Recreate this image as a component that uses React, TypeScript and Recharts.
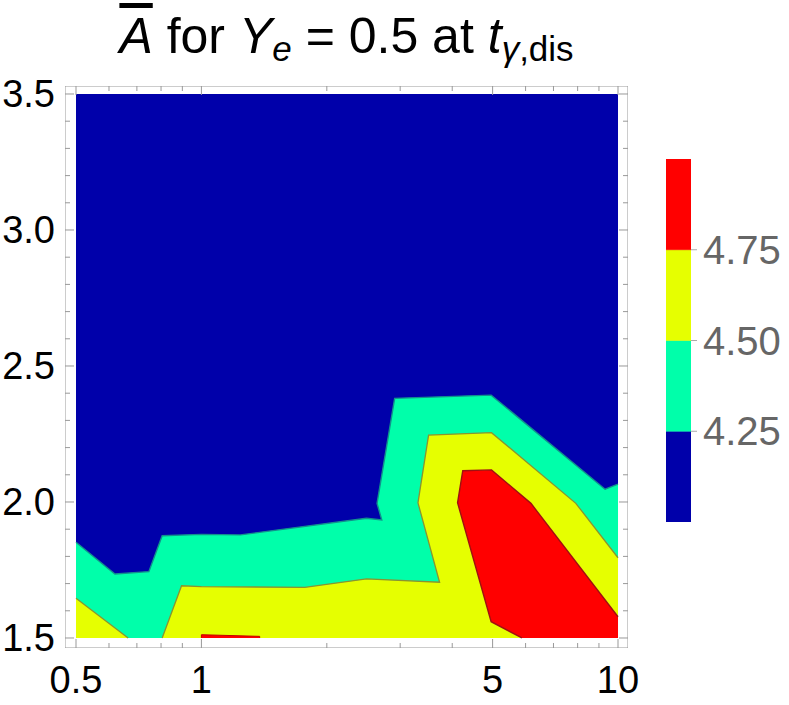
import React from "react";
import { ComposedChart, Scatter, XAxis, YAxis } from "recharts";

const FONT = '"Liberation Sans", Arial, Helvetica, sans-serif';

const BLUE = "#0000aa";
const GREEN = "#00ffaa";
const YELLOW = "#e6ff00";
const RED = "#ff0000";
const FRAME = "#999999";

// data extent
const X0 = 0.5;
const X1 = 10;
const Y0 = 1.5;
const Y1 = 3.5;

// contour 4.25 (blue / green)
const contour425 = [
  { x: 0.5, y: 1.852 },
  { x: 0.62, y: 1.735 },
  { x: 0.748, y: 1.744 },
  { x: 0.805, y: 1.876 },
  { x: 1.0, y: 1.881 },
  { x: 1.24, y: 1.879 },
  { x: 2.49, y: 1.94 },
  { x: 2.71, y: 1.934 },
  { x: 2.64, y: 1.995 },
  { x: 2.91, y: 2.381 },
  { x: 4.96, y: 2.393 },
  { x: 9.31, y: 2.047 },
  { x: 10, y: 2.066 },
];

// contour 4.5 (green / yellow), two pieces
const contour450a = [
  { x: 0.5, y: 1.646 },
  { x: 0.667, y: 1.5 },
];
const contour450b = [
  { x: 0.805, y: 1.5 },
  { x: 0.896, y: 1.692 },
  { x: 1.0, y: 1.689 },
  { x: 1.77, y: 1.686 },
  { x: 2.49, y: 1.717 },
  { x: 3.73, y: 1.705 },
  { x: 3.31, y: 1.997 },
  { x: 3.51, y: 2.246 },
  { x: 4.97, y: 2.255 },
  { x: 7.92, y: 1.995 },
  { x: 10, y: 1.795 },
];

// contour 4.75 (yellow / red)
const contour475 = [
  { x: 5.88, y: 1.5 },
  { x: 4.96, y: 1.56 },
  { x: 4.12, y: 1.997 },
  { x: 4.24, y: 2.115 },
  { x: 4.97, y: 2.118 },
  { x: 6.18, y: 1.995 },
  { x: 10, y: 1.578 },
];

const redSliver = [
  { x: 1.0, y: 1.5 },
  { x: 1.0, y: 1.512 },
  { x: 1.38, y: 1.506 },
  { x: 1.38, y: 1.5 },
];

const xTicks = [0.5, 0.6, 0.7, 0.8, 0.9, 1, 2, 3, 4, 5, 6, 7, 8, 9, 10];
const xLabels = [0.5, 1, 5, 10];
const yTicks = [
  1.5, 1.6, 1.7, 1.8, 1.9, 2.0, 2.1, 2.2, 2.3, 2.4, 2.5, 2.6, 2.7, 2.8, 2.9,
  3.0, 3.1, 3.2, 3.3, 3.4, 3.5,
];
const yLabels = [1.5, 2.0, 2.5, 3.0, 3.5];

const levels = [4.0, 4.25, 4.5, 4.75, 5.0];
const levelColors = [BLUE, GREEN, YELLOW, RED];
const levelTicks = [4.25, 4.5, 4.75];

// layout
const W = 789;
const H = 705;
const PLOT_LEFT = 65;
const PLOT_TOP = 86;
const PLOT_RIGHT = 628;
const PLOT_BOTTOM = 648;
// domain padded so the frame sits outside the data box
const XDOM = [0.4705, 10.568];
const YDOM = [1.4632, 3.5294];

const blueBox = [
  { x: X0, y: Y0 },
  { x: X1, y: Y0 },
  { x: X1, y: Y1 },
  { x: X0, y: Y1 },
];
const frameBox = [
  { x: XDOM[0], y: YDOM[0] },
  { x: XDOM[1], y: YDOM[0] },
  { x: XDOM[1], y: YDOM[1] },
  { x: XDOM[0], y: YDOM[1] },
  { x: XDOM[0], y: YDOM[0] },
];
const greenFill = [...contour425, { x: X1, y: Y0 }, { x: X0, y: Y0 }];
const yellowFillA = [{ x: X0, y: Y0 }, ...contour450a];
const yellowFillB = [...contour450b, { x: X1, y: Y0 }];
const redFill = [...contour475, { x: X1, y: Y0 }];

const Empty = () => <g />;

const near = (list: number[], v: number) => list.some((l) => Math.abs(l - v) < 1e-6);

function poly(key: string, data: any[], fill: string, stroke = "none", sw = 0) {
  return (
    <Scatter
      key={key}
      data={data}
      line={{ fill, stroke, strokeWidth: sw }}
      lineType="joint"
      shape={Empty}
      isAnimationActive={false}
    />
  );
}

const XTick = (props: any) => {
  const { x, payload } = props;
  const v = payload.value;
  const major = near(xLabels, v);
  const len = major ? 9 : 5;
  return (
    <g>
      <line x1={x} x2={x} y1={PLOT_BOTTOM} y2={PLOT_BOTTOM - len} stroke={FRAME} />
      <line x1={x} x2={x} y1={PLOT_TOP} y2={PLOT_TOP + len} stroke={FRAME} />
      {major && (
        <text x={x} y={PLOT_BOTTOM + 45} textAnchor="middle" fontSize={38} fontFamily={FONT} fill="#000">
          {String(v)}
        </text>
      )}
    </g>
  );
};

const YTick = (props: any) => {
  const { y, payload } = props;
  const v = payload.value;
  const major = near(yLabels, v);
  const len = major ? 9 : 5;
  return (
    <g>
      <line x1={PLOT_LEFT} x2={PLOT_LEFT + len} y1={y} y2={y} stroke={FRAME} />
      <line x1={PLOT_RIGHT} x2={PLOT_RIGHT - len} y1={y} y2={y} stroke={FRAME} />
      {major && (
        <text x={PLOT_LEFT - 10} y={y + 13} textAnchor="end" fontSize={38} fontFamily={FONT} fill="#000">
          {v.toFixed(1)}
        </text>
      )}
    </g>
  );
};

const BarTick = (props: any) => {
  const { x, y, payload } = props;
  return (
    <g>
      <line x1={x} x2={x + 6} y1={y} y2={y} stroke="#aaaaaa" />
      <text x={x + 12} y={y + 14} textAnchor="start" fontSize={40} fontFamily={FONT} fill="#666666">
        {payload.value.toFixed(2)}
      </text>
    </g>
  );
};

function Title() {
  const sub: React.CSSProperties = { fontSize: "0.7em", verticalAlign: "-0.22em" };
  return (
    <div
      style={{
        position: "absolute",
        left: 0,
        top: 11,
        width: (PLOT_LEFT + PLOT_RIGHT),
        textAlign: "center",
        fontFamily: FONT,
        fontSize: 50,
        lineHeight: "50px",
        whiteSpace: "nowrap",
        color: "#000",
      }}
    >
      <span style={{ fontStyle: "italic", textDecoration: "overline" }}>A</span> for{" "}
      <span style={{ fontStyle: "italic" }}>Y</span>
      <span style={{ ...sub, fontStyle: "italic" }}>e</span> = 0.5 at{" "}
      <span style={{ fontStyle: "italic" }}>t</span>
      <span style={sub}>
        <span style={{ fontStyle: "italic" }}>γ</span>,dis
      </span>
    </div>
  );
}

export default function App() {
  const bands = levelColors.map((c, i) => ({
    color: c,
    pts: [
      { x: 0, y: levels[i] },
      { x: 1, y: levels[i] },
      { x: 1, y: levels[i + 1] },
      { x: 0, y: levels[i + 1] },
    ],
  }));

  return (
    <div style={{ position: "absolute", left: 0, top: 0, width: W, height: H, background: "#fff" }}>
      <Title />
      <div style={{ position: "absolute", left: 0, top: 0 }}>
        <ComposedChart width={W} height={H} margin={{ top: PLOT_TOP, right: W - PLOT_RIGHT, bottom: 0, left: 0 }}>
          <XAxis
            dataKey="x"
            type="number"
            scale="log"
            domain={XDOM}
            allowDataOverflow
            ticks={xTicks}
            interval={0}
            height={H - PLOT_BOTTOM}
            axisLine={false}
            tickLine={false}
            tickSize={0}
            tickMargin={0}
            tick={<XTick />}
          />
          <YAxis
            dataKey="y"
            type="number"
            domain={YDOM}
            allowDataOverflow
            ticks={yTicks}
            interval={0}
            width={PLOT_LEFT}
            axisLine={false}
            tickLine={false}
            tickSize={0}
            tickMargin={0}
            tick={<YTick />}
          />
          {poly("blue", blueBox, BLUE)}
          {poly("green", greenFill, GREEN)}
          {poly("yellowA", yellowFillA, YELLOW)}
          {poly("yellowB", yellowFillB, YELLOW)}
          {poly("red", redFill, RED)}
          {poly("sliver", redSliver, RED, "#c00000", 1)}
          {poly("c425", contour425, "none", "#12918c", 1.4)}
          {poly("c450a", contour450a, "none", "#8a9430", 1.3)}
          {poly("c450b", contour450b, "none", "#8a9430", 1.3)}
          {poly("c475", contour475, "none", "#a01010", 1.4)}
          {poly("frame", frameBox, "none", FRAME, 1)}
        </ComposedChart>
      </div>
      <div style={{ position: "absolute", left: 0, top: 0 }}>
        <ComposedChart width={W} height={H} margin={{ top: 159, right: 0, bottom: H - 522, left: 666 }}>
          <XAxis dataKey="x" type="number" domain={[0, 1]} allowDataOverflow hide />
          <YAxis
            dataKey="y"
            type="number"
            orientation="right"
            domain={[levels[0], levels[levels.length - 1]]}
            allowDataOverflow
            ticks={levelTicks}
            interval={0}
            width={W - 691}
            axisLine={false}
            tickLine={false}
            tickSize={0}
            tickMargin={0}
            tick={<BarTick />}
          />
          {bands.map((b, i) => poly("band" + i, b.pts, b.color, b.color, 0.5))}
        </ComposedChart>
      </div>
    </div>
  );
}
